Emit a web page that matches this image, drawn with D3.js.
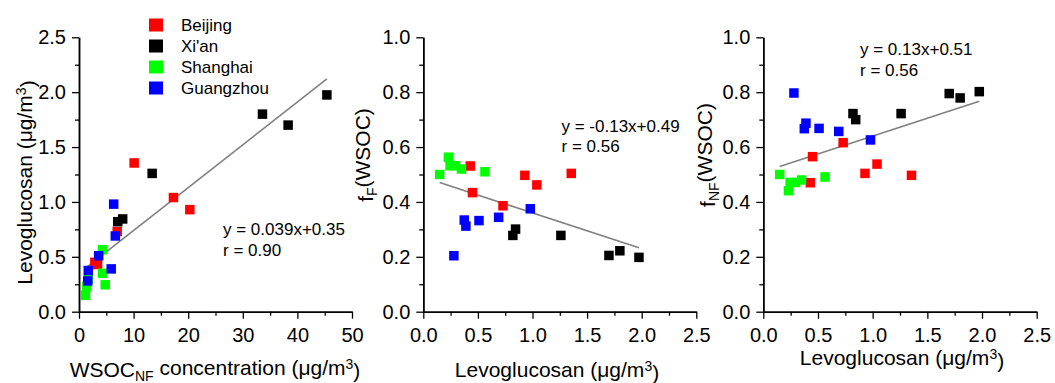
<!DOCTYPE html>
<html>
<head>
<meta charset="utf-8">
<script src="https://cdn.jsdelivr.net/npm/d3@7"></script>
<style>
  body { margin: 0; background: #fff; }
  svg { display: block; font-family: "Liberation Sans", Arial, sans-serif; }
</style>
</head>
<body>
<svg id="chart" width="1055" height="383"></svg>
<script>
// city order is also drawing order (Guangzhou on top)
const cities = ['Beijing', "Xi'an", 'Shanghai', 'Guangzhou'];
const cityColors = ['#ff0000', '#000000', '#00ff00', '#0000ff'];

// levoglucosan (ug/m3), one array per city
const levo = [
  [0.43, 0.45, 0.73, 0.93, 1.04, 1.355],
  [0.82, 0.845, 1.26, 1.70, 1.80, 1.975],
  [0.15, 0.23, 0.245, 0.295, 0.35, 0.565],
  [0.28, 0.375, 0.39, 0.51, 0.69, 0.98]
];
// WSOC_NF concentration (ug/m3)
const wsocNF = [
  [3.4, 2.9, 7.0, 20.3, 17.3, 10.1],
  [7.1, 8.0, 13.4, 38.3, 33.6, 45.4],
  [1.2, 1.4, 4.8, 1.7, 4.3, 4.3],
  [1.6, 1.7, 5.9, 3.6, 6.65, 6.35]
];
// fraction of WSOC, fire-related (F)
const fF = [
  [0.531, 0.434, 0.386, 0.497, 0.462, 0.504],
  [0.278, 0.301, 0.278, 0.205, 0.222, 0.198],
  [0.50, 0.563, 0.532, 0.532, 0.52, 0.51],
  [0.204, 0.334, 0.312, 0.332, 0.344, 0.375]
];
// fraction of WSOC, non-fire (NF)
const fNF = [
  [0.47, 0.565, 0.616, 0.504, 0.538, 0.497],
  [0.722, 0.70, 0.722, 0.795, 0.779, 0.802],
  [0.50, 0.441, 0.471, 0.471, 0.48, 0.491],
  [0.797, 0.667, 0.687, 0.668, 0.657, 0.626]
];

// fitted lines: slope, intercept, labels
const fitSlopes = [0.039, -0.13, 0.13];
const fitIntercepts = [0.35, 0.49, 0.51];
const fitLabels = ['y = 0.039x+0.35', 'y = -0.13x+0.49', 'y = 0.13x+0.51'];
const rLabels = ['r = 0.90', 'r = 0.56', 'r = 0.56'];

const xTicks1 = [0, 10, 20, 30, 40, 50];
const xTicks23 = [0, 0.5, 1.0, 1.5, 2.0, 2.5];
const yTicks1 = [0, 0.5, 1.0, 1.5, 2.0, 2.5];
const yTicks23 = [0, 0.2, 0.4, 0.6, 0.8, 1.0];

const svg = d3.select('#chart');
const plotTop = 37.3, plotBottom = 311.7;

const panels = [
  { left: 79, right: 352, xs: wsocNF, ys: levo, xDomain: [0, 50], yDomain: [0, 2.5],
    xTicks: xTicks1, yTicks: yTicks1, xFmt: d3.format('d'), yFmt: d3.format('.1f'),
    eq: [223, 235], xTitle: [215, 377], yTitle: [32, 182.5], kind: 1 },
  { left: 423.3, right: 696.3, xs: levo, ys: fF, xDomain: [0, 2.5], yDomain: [0, 1],
    xTicks: xTicks23, yTicks: yTicks23, xFmt: d3.format('.1f'), yFmt: d3.format('.1f'),
    eq: [561.5, 131.7], xTitle: [557, 377], yTitle: [372.5, 155], kind: 2 },
  { left: 763.3, right: 1036.7, xs: levo, ys: fNF, xDomain: [0, 2.5], yDomain: [0, 1],
    xTicks: xTicks23, yTicks: yTicks23, xFmt: d3.format('.1f'), yFmt: d3.format('.1f'),
    eq: [860, 55], xTitle: [902, 365], yTitle: [714.5, 155], kind: 3 }
];

function minorTicks(major) {
  const step = major[1] - major[0];
  return major.slice(0, -1).map(v => v + step / 2);
}

function styleAxis(g) {
  g.select('.domain').attr('stroke', '#000').attr('stroke-width', 1.5);
  g.selectAll('.tick line').attr('stroke', '#000').attr('stroke-width', 1.3);
  g.selectAll('.tick text').attr('fill', '#000').style('font-size', '20px');
  g.attr('font-family', null);
}

function addUnit(text, base) {
  text.append('tspan').text(base + ' (\u03bcg/m');
  text.append('tspan').attr('dy', '-0.45em').style('font-size', '14px').text('3');
  text.append('tspan').attr('dy', '0.45em').text(')');
}

panels.forEach((p, i) => {
  const x = d3.scaleLinear().domain(p.xDomain).range([p.left, p.right]);
  const y = d3.scaleLinear().domain(p.yDomain).range([plotBottom, plotTop]);
  const g = svg.append('g');

  // minor ticks
  g.append('g').attr('transform', `translate(0,${plotBottom})`)
    .call(d3.axisBottom(x).tickValues(minorTicks(p.xTicks)).tickSize(4).tickSizeOuter(0).tickFormat(''))
    .call(styleAxis);
  g.append('g').attr('transform', `translate(${p.left},0)`)
    .call(d3.axisLeft(y).tickValues(minorTicks(p.yTicks)).tickSize(4).tickSizeOuter(0).tickFormat(''))
    .call(styleAxis);

  // major ticks
  g.append('g').attr('transform', `translate(0,${plotBottom})`)
    .call(d3.axisBottom(x).tickValues(p.xTicks).tickSize(7).tickPadding(9).tickSizeOuter(0).tickFormat(p.xFmt))
    .call(styleAxis);
  g.append('g').attr('transform', `translate(${p.left},0)`)
    .call(d3.axisLeft(y).tickValues(p.yTicks).tickSize(7).tickPadding(6).tickSizeOuter(0).tickFormat(p.yFmt))
    .call(styleAxis);

  // fit line over the x range of the data
  const allX = d3.merge(p.xs);
  const [x0, x1] = d3.extent(allX);
  const f = v => fitSlopes[i] * v + fitIntercepts[i];
  g.append('line')
    .attr('x1', x(x0)).attr('y1', y(f(x0)))
    .attr('x2', x(x1)).attr('y2', y(f(x1)))
    .attr('stroke', '#808080')
    .attr('stroke-width', 1.6);

  // points
  const size = 9.5;
  cities.forEach((c, ci) => {
    g.selectAll(null)
      .data(p.xs[ci].map((v, k) => [v, p.ys[ci][k]]))
      .enter()
      .append('rect')
      .attr('x', d => x(d[0]) - size / 2)
      .attr('y', d => y(d[1]) - size / 2)
      .attr('width', size)
      .attr('height', size)
      .attr('fill', cityColors[ci]);
  });

  // equation text
  const eq = g.append('g').style('font-size', '17px').attr('fill', '#000');
  eq.append('text').attr('x', p.eq[0]).attr('y', p.eq[1]).text(fitLabels[i]);
  eq.append('text').attr('x', p.eq[0]).attr('y', p.eq[1] + 20.7).text(rLabels[i]);

  // x title
  const xt = g.append('text')
    .attr('x', p.xTitle[0]).attr('y', p.xTitle[1])
    .attr('text-anchor', 'middle')
    .style('font-size', '21px');
  if (p.kind === 1) {
    xt.append('tspan').text('WSOC');
    xt.append('tspan').attr('dy', '0.3em').style('font-size', '14px').text('NF');
    xt.append('tspan').attr('dy', '-0.3em').text(' concentration (\u03bcg/m');
    xt.append('tspan').attr('dy', '-0.45em').style('font-size', '14px').text('3');
    xt.append('tspan').attr('dy', '0.45em').text(')');
  } else {
    addUnit(xt, 'Levoglucosan');
  }

  // y title
  const yt = g.append('text')
    .attr('transform', `translate(${p.yTitle[0]},${p.yTitle[1]}) rotate(-90)`)
    .attr('text-anchor', 'middle')
    .style('font-size', '21px');
  if (p.kind === 1) {
    addUnit(yt, 'Levoglucosan');
  } else {
    yt.append('tspan').text('f');
    yt.append('tspan').attr('dy', '0.3em').style('font-size', '14px').text(p.kind === 2 ? 'F' : 'NF');
    yt.append('tspan').attr('dy', '-0.3em').text('(WSOC)');
  }
});

// legend
const legend = svg.append('g').style('font-size', '17px');
cities.forEach((c, ci) => {
  const ly = 25 + ci * 21;
  legend.append('rect')
    .attr('x', 149).attr('y', ly - 6.5)
    .attr('width', 14).attr('height', 13)
    .attr('fill', cityColors[ci]);
  legend.append('text')
    .attr('x', 181).attr('y', ly + 6)
    .text(c);
});
</script>
</body>
</html>
